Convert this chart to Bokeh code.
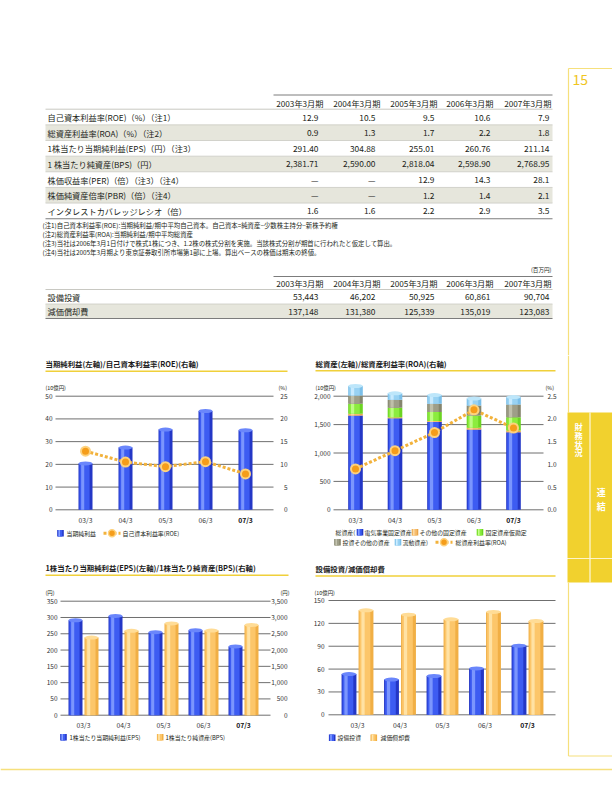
import numpy as np
from bokeh.plotting import figure
from bokeh.layouts import column, row
from bokeh.models import Range1d, LinearAxis, FixedTicker, NumeralTickFormatter, ColumnDataSource
from bokeh.transform import dodge
from bokeh.core.properties import value
from bokeh.embed import file_html
from bokeh.resources import INLINE

# ---------------- data ----------------
periods = ["2003年3月期", "2004年3月期", "2005年3月期", "2006年3月期", "2007年3月期"]
categories = ["03/3", "04/3", "05/3", "06/3", "07/3"]

roe = [12.9, 10.5, 9.5, 10.6, 7.9]
roa = [0.9, 1.3, 1.7, 2.2, 1.8]
eps = [291.40, 304.88, 255.01, 260.76, 211.14]
bps = [2381.71, 2590.00, 2818.04, 2598.90, 2768.95]
per = [None, None, 12.9, 14.3, 28.1]
pbr = [None, None, 1.2, 1.4, 2.1]
interest_coverage = [1.6, 1.6, 2.2, 2.9, 3.5]

capex_mil = [53443, 46202, 50925, 60861, 90704]
depreciation_mil = [137148, 131380, 125339, 135019, 123083]

net_income = [20.4, 27.4, 35.3, 43.5, 35.0]          # 10億円

assets_electric = [1660, 1610, 1545, 1413, 1366]       # 10億円
assets_other_fixed = [30, 20, 20, 30, 30]
assets_construction = [176, 165, 155, 217, 234]
assets_investments = [146, 141, 148, 176, 223]
assets_current = [167, 114, 152, 123, 132]

ni_ticks = [0, 10, 20, 30, 40, 50]
roe_ticks = [0, 5, 10, 15, 20, 25]
asset_ticks = [0, 500, 1000, 1500, 2000]
roa_ticks = [0.0, 0.5, 1.0, 1.5, 2.0, 2.5]
eps_ticks = [0, 50, 100, 150, 200, 250, 300, 350]
bps_ticks = [0, 500, 1000, 1500, 2000, 2500, 3000, 3500]
capex_ticks = [0, 30, 60, 90, 120, 150]

table1_rows = [
    ("自己資本利益率(ROE)（%）（注1）", roe, 1),
    ("総資産利益率(ROA)（%）（注2）", roa, 1),
    ("1株当たり当期純利益(EPS)（円）（注3）", eps, 2),
    ("1 株当たり純資産(BPS)（円）", bps, 2),
    ("株価収益率(PER)（倍）（注3）（注4）", per, 1),
    ("株価純資産倍率(PBR)（倍）（注4）", pbr, 1),
    ("インタレストカバレッジレシオ（倍）", interest_coverage, 1),
]
table2_rows = [("設備投資", capex_mil, 0), ("減価償却費", depreciation_mil, 0)]
notes = [
    "(注1)自己資本利益率(ROE):当期純利益/期中平均自己資本。自己資本=純資産−少数株主持分−新株予約権",
    "(注2)総資産利益率(ROA):当期純利益/期中平均総資産",
    "(注3)当社は2006年3月1日付けで株式1株につき、1.2株の株式分割を実施。当該株式分割が期首に行われたと仮定して算出。",
    "(注4)当社は2005年3月期より東京証券取引所市場第1部に上場。算出ベースの株価は期末の終値。",
]
titles = ["当期純利益(左軸)/自己資本利益率(ROE)(右軸)",
          "総資産(左軸)/総資産利益率(ROA)(右軸)",
          "1株当たり当期純利益(EPS)(左軸)/1株当たり純資産(BPS)(右軸)",
          "設備投資/減価償却費"]

# ---------------- styles ----------------
FONT = "Noto Sans CJK JP"
TXT = "#231f20"
TITLE_YEL = "#f0d03a"
FRAME_YEL = "#f6e07c"
TAB_YEL = "#f1d12e"
NUM_YEL = "#f0c51e"
GRID = "#6f6f6f"
BAND = "#e6e6dc"
LINE_OR = "#f2b23c"
BLUE = ("#2437c6", "#3d5cf2", "#86a0ff", "#6a86fb")
ORANGE = ("#f1af45", "#fcc66a", "#ffe6ae", "#ffdc96")
OTHERF = ("#e9a54c", "#f6bd6e", "#fcdba6", "#fcdba6")
CONSTR = ("#6cd422", "#8cec3e", "#c8ff90", "#c8ff90")
INVEST = ("#85856e", "#9e9e88", "#c4c4b0", "#c4c4b0")
CURRENT = ("#7bbfe9", "#98d2f3", "#d0efff", "#bde6fa")
TICK = "6.5px"
XTICK = "6.8px"
LEG = "5.9px"
UNIT = "5.4px"
PX = dict(x_range_name="px", y_range_name="py")

idx = list(range(len(categories)))


def aux(x0, x1, y0, y1):
    p = figure(width=int(round(x1 - x0)), height=int(round(y1 - y0)),
               x_range=Range1d(x0, x1), y_range=Range1d(y1, y0),
               x_axis_type=None, y_axis_type=None, title=None, toolbar_location=None,
               output_backend="svg", min_border=0, outline_line_color=None)
    p.background_fill_color = "white"
    p.border_fill_color = "white"
    return p


def put(p, xs, ys, texts, size, align="left", color=TXT, bold=False, **kw):
    p.text(x=list(xs), y=list(ys), text=list(texts), text_font=value(FONT),
           text_font_size=size, text_align=align, text_baseline="middle",
           text_color=color, text_font_style="bold" if bold else "normal", **kw)


def fmt(v, d):
    if v is None:
        return "—"
    return f"{v:,.{d}f}"


# ---------------- top: tables ----------------
top = aux(0, 612, 0, 355)
top.segment(x0=[568, 568], y0=[68, 68], x1=[612, 568], y1=[68, 355],
            line_color=FRAME_YEL, line_width=1.2)
put(top, [572], [78.5], ["15"], "14px", color=NUM_YEL)

val_r = [318, 375, 434, 490, 549]
hdr_r = [323, 380, 437, 493, 551]


def draw_table(p, rows, hdr_y, line_y, row_top, rh):
    n = len(rows)
    tops = [row_top + i * rh for i in range(n)]
    bt = [t for i, t in enumerate(tops) if i % 2 == 1]
    p.quad(left=45, right=552, top=bt, bottom=[t + rh for t in bt], fill_color=BAND, line_color=None)
    bounds = [row_top + i * rh for i in range(n + 1)]
    p.segment(x0=[45] * (n - 1), x1=[552] * (n - 1), y0=bounds[1:-1], y1=bounds[1:-1],
              line_color="#c4c4bc", line_width=0.7)
    p.segment(x0=[45], x1=[552], y0=[row_top], y1=[row_top], line_color="#b0b0a8", line_width=0.7)
    p.segment(x0=[273, 45], x1=[552, 552], y0=[line_y, bounds[-1]], y1=[line_y, bounds[-1]],
              line_color="#7c7c7c", line_width=1)
    put(p, hdr_r, [hdr_y] * 5, periods, "8.2px", align="right")
    xs, ys, ts = [], [], []
    for i, (lab, vals, d) in enumerate(rows):
        cy = row_top + (i + 0.5) * rh
        put(p, [47], [cy], [lab], "8.2px")
        for j, v in enumerate(vals):
            xs.append(val_r[j]); ys.append(cy); ts.append(fmt(v, d))
    put(p, xs, ys, ts, "8.4px", align="right")


draw_table(top, table1_rows, 102.7, 94.5, 108.7, 15.65)
put(top, [42] * 4, [225, 234.2, 243.3, 252.3], notes, "6.4px")
put(top, [551], [269], ["(百万円)"], "5.6px", align="right")
draw_table(top, table2_rows, 282, 276, 289, 14.5)


# ---------------- chart helpers ----------------
def style_axis(ax, size, standoff):
    ax.axis_line_color = None
    ax.major_tick_line_color = None
    ax.minor_tick_line_color = None
    ax.major_tick_in = 0
    ax.major_tick_out = 0
    ax.major_label_text_font = FONT
    ax.major_label_text_font_size = size
    ax.major_label_text_color = "#333333"
    ax.major_label_standoff = standoff


def make_chart(col_x0, col_x1, fig_y0, fig_y1, y0px, ytpx, ytval, c0, dc):
    s = (y0px - ytpx) / ytval
    p = figure(width=int(col_x1 - col_x0), height=int(fig_y1 - fig_y0),
               x_range=Range1d((col_x0 - c0) / dc, (col_x1 - c0) / dc),
               y_range=Range1d(-(fig_y1 - y0px) / s, (y0px - fig_y0) / s),
               x_axis_type=None, y_axis_type=None, title=None,
               toolbar_location=None, output_backend="svg", min_border=0,
               outline_line_color=None)
    p.background_fill_color = "white"
    p.border_fill_color = "white"
    p.extra_x_ranges = {"px": Range1d(col_x0, col_x1)}
    p.extra_y_ranges = {"py": Range1d(fig_y1, fig_y0)}
    return p, (lambda px: (px - c0) / dc)


def y_axis(p, ticks, loc, standoff, rname="default", fmt_str=None):
    # labels are right-aligned to the left of `loc`
    ax = LinearAxis(y_range_name=rname, ticker=FixedTicker(ticks=ticks), fixed_location=loc)
    if fmt_str:
        ax.formatter = NumeralTickFormatter(format=fmt_str)
    style_axis(ax, TICK, standoff)
    p.add_layout(ax, "left")


def x_axes(p, standoff):
    for ticks, bold in ((idx[:-1], False), (idx[-1:], True)):
        ax = LinearAxis(ticker=FixedTicker(ticks=ticks), fixed_location=0,
                        major_label_overrides={i: categories[i] for i in ticks})
        style_axis(ax, XTICK, standoff)
        if bold:
            ax.major_label_text_font_style = "bold"
            ax.major_label_text_color = "#111111"
        p.add_layout(ax, "below")


def grid(p, ticks, xl, xr):
    n = len(ticks)
    p.segment(x0=[xl] * n, x1=[xr] * n, y0=list(ticks), y1=list(ticks), line_color=GRID, line_width=1)


def cylinder(p, xs, tops, bottoms, width, pal, rname="default", lid=True):
    edge, mid, hi, lidc = pal
    src = ColumnDataSource(dict(x=list(xs), top=list(tops), bottom=list(bottoms)))
    kw = dict(source=src, y_range_name=rname, line_color=None)
    p.vbar(x="x", width=width, top="top", bottom="bottom", fill_color=edge, **kw)
    p.vbar(x=dodge("x", -0.07 * width), width=0.72 * width, top="top", bottom="bottom", fill_color=mid, **kw)
    p.vbar(x=dodge("x", -0.2 * width), width=0.22 * width, top="top", bottom="bottom",
           fill_color=hi, fill_alpha=0.85, **kw)
    if lid:
        p.ellipse(x="x", y="top", width=width, height=4, height_units="screen", fill_color=lidc, **kw)


def ratio_line(p, xs, ys):
    p.line(x=xs, y=ys, y_range_name="r", line_color=LINE_OR, line_width=3, line_dash="3 2")
    p.scatter(x=xs, y=ys, y_range_name="r", marker="circle", size=9,
              fill_color="#f59d1a", line_color="#fdd27e", line_width=2)


def chart_title(p, text, tx, ty, ux1):
    put(p, [tx], [ty], [text], "7.4px", bold=True, color="#1a1a1a", **PX)
    p.segment(x0=[tx], x1=[ux1], y0=[ty + 7.5], y1=[ty + 7.5], line_color=TITLE_YEL, line_width=1.4, **PX)


def legend_square(p, cx, cy, pal):
    p.rect(x=[cx], y=[cy], width=6.6, height=6.6, fill_color=pal[0], line_color=None, **PX)
    p.rect(x=[cx - 0.4], y=[cy], width=4.4, height=6.6, fill_color=pal[1], line_color=None, **PX)
    p.rect(x=[cx - 1.2], y=[cy], width=1.5, height=6.6, fill_color=pal[2], line_color=None, **PX)


def legend_line(p, x0, x1, cy):
    p.line(x=[x0, x1], y=[cy, cy], line_color=LINE_OR, line_width=3, line_dash="3 2", **PX)
    p.scatter(x=[(x0 + x1) / 2], y=[cy], marker="circle", size=7,
              fill_color="#f59d1a", line_color="#fdd27e", line_width=1.5, **PX)


# ---------------- chart 1 ----------------
p1, tox = make_chart(0, 305, 355, 558, 509.3, 395.7, 50, 85, 40)
f1 = roe_ticks[-1] / ni_ticks[-1]
p1.extra_y_ranges["r"] = Range1d(p1.y_range.start * f1, p1.y_range.end * f1)
grid(p1, ni_ticks, tox(55), tox(273))
y_axis(p1, ni_ticks, tox(55), 3)
y_axis(p1, roe_ticks, tox(290), 3, rname="r")
x_axes(p1, 5)
cylinder(p1, idx, net_income, [0] * 5, 0.35, BLUE)
ratio_line(p1, idx, roe)
chart_title(p1, titles[0], 45, 363.3, 287)
put(p1, [45, 278], [387, 387], ["(10億円)", "(%)"], UNIT, **PX)
legend_square(p1, 60, 532.7, BLUE)
put(p1, [66], [532.7], ["当期純利益"], LEG, **PX)
legend_line(p1, 103, 120, 532.7)
put(p1, [122], [532.7], ["自己資本利益率(ROE)"], LEG, **PX)

# ---------------- chart 2 ----------------
p2, tox = make_chart(305, 560, 355, 558, 509.3, 395.7, 2000, 355, 39.5)
f2 = roa_ticks[-1] / asset_ticks[-1]
p2.extra_y_ranges["r"] = Range1d(p2.y_range.start * f2, p2.y_range.end * f2)
grid(p2, asset_ticks, tox(333), tox(543))
y_axis(p2, asset_ticks, tox(333), 3, fmt_str="0,0")
y_axis(p2, roa_ticks, tox(559), 3, rname="r", fmt_str="0.0")
x_axes(p2, 5)
segs = [assets_electric, assets_other_fixed, assets_construction, assets_investments, assets_current]
pals = [BLUE, OTHERF, CONSTR, INVEST, CURRENT]
cum = np.cumsum(np.array(segs, dtype=float), axis=0)
for k in range(len(segs)):
    bottom = cum[k - 1] if k > 0 else np.zeros(len(idx))
    cylinder(p2, idx, cum[k], bottom, 0.37, pals[k], lid=(k == len(segs) - 1))
ratio_line(p2, idx, roa)
chart_title(p2, titles[1], 315, 362.8, 555)
put(p2, [315, 545], [387, 387], ["(10億円)", "(%)"], UNIT, **PX)
put(p2, [335], [531.7], ["総資産("], LEG, **PX)
legend_square(p2, 359.5, 531.7, BLUE)
put(p2, [364], [531.7], ["電気事業固定資産"], LEG, **PX)
legend_square(p2, 414.5, 531.7, OTHERF)
put(p2, [419], [531.7], ["その他の固定資産"], LEG, **PX)
legend_square(p2, 479.5, 531.7, CONSTR)
put(p2, [485], [531.7], ["固定資産仮勘定"], LEG, **PX)
legend_square(p2, 337, 541.7, INVEST)
put(p2, [342], [541.7], ["投資その他の資産"], LEG, **PX)
legend_square(p2, 397.5, 541.7, CURRENT)
put(p2, [402], [541.7], ["流動資産)"], LEG, **PX)
legend_line(p2, 435, 452, 541.7)
put(p2, [455], [541.7], ["総資産利益率(ROA)"], LEG, **PX)

# ---------------- chart 3 ----------------
p3, tox = make_chart(0, 305, 558, 760, 714.7, 600.7, 350, 83, 40)
f3 = bps_ticks[-1] / eps_ticks[-1]
p3.extra_y_ranges["r"] = Range1d(p3.y_range.start * f3, p3.y_range.end * f3)
grid(p3, eps_ticks, tox(60), tox(270))
y_axis(p3, eps_ticks, tox(60), 3)
y_axis(p3, bps_ticks, tox(290), 3, rname="r", fmt_str="0,0")
x_axes(p3, 5)
cylinder(p3, [i - 0.2 for i in idx], eps, [0] * 5, 0.35, BLUE)
cylinder(p3, [i + 0.2 for i in idx], bps, [0] * 5, 0.35, ORANGE, rname="r")
chart_title(p3, titles[2], 45, 567.3, 288)
put(p3, [45, 280], [592, 592], ["(円)", "(円)"], UNIT, **PX)
legend_square(p3, 63, 736.7, BLUE)
put(p3, [69], [736.7], ["1株当たり当期純利益(EPS)"], LEG, **PX)
legend_square(p3, 159.7, 736.7, ORANGE)
put(p3, [165], [736.7], ["1株当たり純資産(BPS)"], LEG, **PX)

# ---------------- chart 4 ----------------
p4, tox = make_chart(305, 560, 558, 760, 714.3, 600, 150, 357, 42.5)
grid(p4, capex_ticks, tox(328), tox(555))
y_axis(p4, capex_ticks, tox(328), 4)
x_axes(p4, 5)
capex_b = [v / 1000 for v in capex_mil]
dep_b = [v / 1000 for v in depreciation_mil]
cylinder(p4, [i - 0.2 for i in idx], capex_b, [0] * 5, 0.35, BLUE)
cylinder(p4, [i + 0.2 for i in idx], dep_b, [0] * 5, 0.35, ORANGE)
chart_title(p4, titles[3], 315, 568, 555)
put(p4, [314], [592], ["(10億円)"], UNIT, **PX)
legend_square(p4, 331.7, 737.3, BLUE)
put(p4, [337], [737.3], ["設備投資"], LEG, **PX)
legend_square(p4, 373.3, 737.3, ORANGE)
put(p4, [380], [737.3], ["減価償却費"], LEG, **PX)

# ---------------- side strips ----------------
sB = aux(560, 612, 355, 558)
sB.segment(x0=[568], x1=[568], y0=[355], y1=[412], line_color=FRAME_YEL, line_width=1.2)
sB.quad(left=[567], right=[612], top=[412], bottom=[558], fill_color=TAB_YEL, line_color=None)
sB.segment(x0=[589.5], x1=[589.5], y0=[412], y1=[558], line_color="white", line_width=1)
put(sB, [578] * 4, [425.5, 434.3, 443.1, 451.9], list("財務状況"), "8.2px", align="center", color="white", bold=True)
put(sB, [600.7] * 2, [491.5, 505.5], list("連結"), "9px", align="center", color="white", bold=True)

sC = aux(560, 612, 558, 760)
sC.quad(left=[567], right=[612], top=[558], bottom=[582], fill_color=TAB_YEL, line_color=None)
sC.segment(x0=[589.5], x1=[589.5], y0=[558], y1=[582], line_color="white", line_width=1)
sC.segment(x0=[568, 568], x1=[568, 612], y0=[582, 755.5], y1=[755.5, 755.5], line_color=FRAME_YEL, line_width=1.2)

bottom = aux(0, 612, 760, 792)
bottom.segment(x0=[0], x1=[612], y0=[769], y1=[769], line_color=FRAME_YEL, line_width=1.5)

page = column(
    top,
    row(p1, p2, sB),
    row(p3, p4, sC),
    bottom,
)

open("out.html", "w").write(file_html(page, INLINE, title="財務状況"))
